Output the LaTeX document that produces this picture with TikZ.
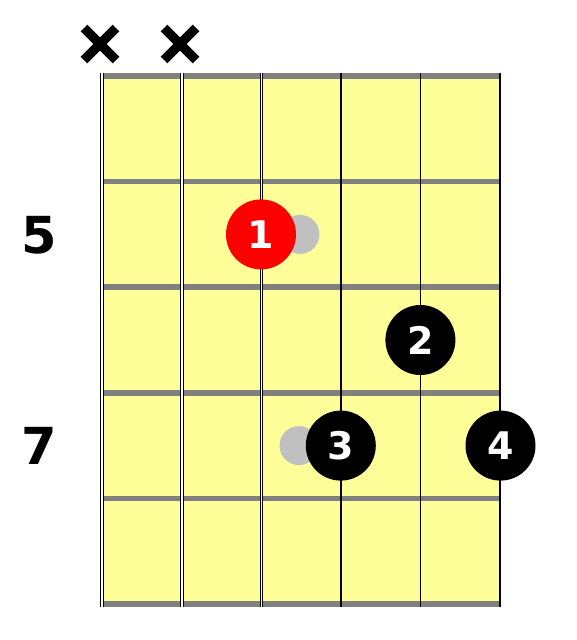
\documentclass[tikz,border=0pt]{standalone}
\usepackage{fontspec}
\setmainfont{DejaVu Sans}
\definecolor{neck}{RGB}{255,255,153}
\definecolor{fretgray}{RGB}{128,128,128}
\definecolor{ghost}{RGB}{192,192,192}

\begin{document}
\begin{tikzpicture}[x=1pt,y=-1pt,
  fret/.style={draw=fretgray,line width=5.5pt},
  wound/.style={draw=black,double=white,double distance=1.3pt,line width=1.2pt},
  plain/.style={draw=black,line width=1.6pt},
  ghostdot/.style={circle,fill=ghost,minimum size=39pt,inner sep=0pt},
  finger/.style={circle,minimum size=70pt,inner sep=0pt,text=white,
    font=\fontsize{38}{38}\selectfont\bfseries},
  fretno/.style={font=\fontsize{51}{51}\selectfont\bfseries},
  mute/.style={line width=9.5pt}]
  \useasboundingbox (0,0) rectangle (576,640);
  \fill[neck] (104,76) rectangle (500.5,604);
  % frets
  \draw[fret] (100,76) -- (501,76);
  \draw[fret] (100,181.6) -- (501,181.6);
  \draw[fret] (100,287.2) -- (501,287.2);
  \draw[fret] (100,392.8) -- (501,392.8);
  \draw[fret] (100,498.4) -- (501,498.4);
  \draw[fret] (100,604) -- (501,604);
  % strings
  \draw[wound] (102,73) -- (102,607);
  \draw[wound] (182,73) -- (182,607);
  \draw[wound,double distance=1pt,line width=1pt] (261.3,73) -- (261.3,607);
  \draw[plain] (340.8,73) -- (340.8,607);
  \draw[plain] (420.4,73) -- (420.4,607);
  \draw[plain] (500,73) -- (500,607);
  % muted strings
  \draw[mute] (84,28) -- (116,60);
  \draw[mute] (84,60) -- (116,28);
  \draw[mute] (164,28) -- (196,60);
  \draw[mute] (164,60) -- (196,28);
  % fret numbers
  \node[fretno] (five) at (39,235) {5};
  \node[fretno] (seven) at (39,446) {7};
  % fingers
  \node[ghostdot] (g1) at (300,234.4) {};
  \node[ghostdot] (g3) at (299,445.6) {};
  \node[finger,fill=red] (f1) at (261,234.4) {1};
  \node[finger,fill=black] (f2) at (420.4,340) {2};
  \node[finger,fill=black] (f3) at (340.8,445.6) {3};
  \node[finger,fill=black] (f4) at (500.5,445.6) {4};
\end{tikzpicture}
\end{document}
